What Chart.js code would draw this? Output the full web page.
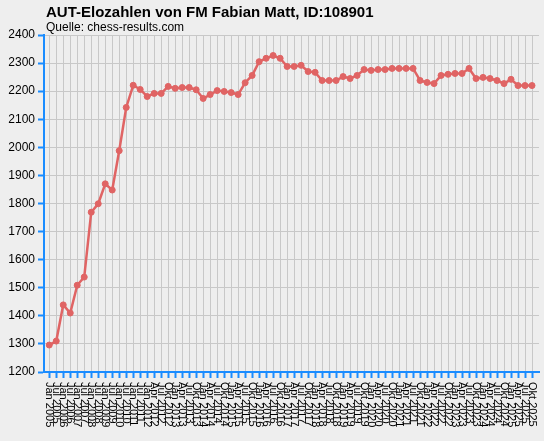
<!DOCTYPE html>
<html>
<head>
<meta charset="utf-8">
<script src="https://cdn.jsdelivr.net/npm/chart.js@4.4.1/dist/chart.umd.min.js"></script>
<style>
  html, body { margin: 0; padding: 0; background: #eeeeee; }
  canvas { display: block; }
</style>
</head>
<body>
<canvas id="chart" width="544" height="441"></canvas>
<script>
const titleText = "AUT-Elozahlen von FM Fabian Matt, ID:108901"
const subtitleText = "Quelle: chess-results.com"

// rating lists: half-yearly up to 2011, quarterly from 2012
const listLabels = [
  "Jan 2005", "Jul 2005", "Jan 2006", "Jul 2006", "Jan 2007", "Jul 2007",
  "Jan 2008", "Jul 2008", "Jan 2009", "Jul 2009", "Jan 2010", "Jul 2010",
  "Jan 2011", "Jul 2011",
  "Jan 2012", "Apr 2012", "Jul 2012", "Okt 2012",
  "Jan 2013", "Apr 2013", "Jul 2013", "Okt 2013",
  "Jan 2014", "Apr 2014", "Jul 2014", "Okt 2014",
  "Jan 2015", "Apr 2015", "Jul 2015", "Okt 2015",
  "Jan 2016", "Apr 2016", "Jul 2016", "Okt 2016",
  "Jan 2017", "Apr 2017", "Jul 2017", "Okt 2017",
  "Jan 2018", "Apr 2018", "Jul 2018", "Okt 2018",
  "Jan 2019", "Apr 2019", "Jul 2019", "Okt 2019",
  "Jan 2020", "Apr 2020", "Jul 2020", "Okt 2020",
  "Jan 2021", "Apr 2021", "Jul 2021", "Okt 2021",
  "Jan 2022", "Apr 2022", "Jul 2022", "Okt 2022",
  "Jan 2023", "Apr 2023", "Jul 2023", "Okt 2023",
  "Jan 2024", "Apr 2024", "Jul 2024", "Okt 2024",
  "Jan 2025", "Apr 2025", "Jul 2025", "Okt 2025",
]

const eloValues = [
  1296, 1310, 1439, 1410, 1509, 1538, 1769, 1799, 1870, 1848,
  1988, 2142, 2221, 2206, 2181, 2192, 2192, 2217, 2210, 2213,
  2213, 2205, 2174, 2188, 2202, 2199, 2195, 2188, 2230, 2256,
  2305, 2317, 2327, 2317, 2288, 2288, 2292, 2270, 2267, 2238,
  2238, 2238, 2252, 2245, 2256, 2277, 2274, 2277, 2277, 2281,
  2281, 2281, 2281, 2238, 2231, 2227, 2256, 2260, 2263, 2263,
  2281, 2245, 2249, 2245, 2238, 2227, 2242, 2220, 2220, 2220,
]

const yMin = 1200
const yMax = 2400
const yStep = 100

const axisBlue = "#1a8cff"
const gridGrey = "#c8c8c8"
const lineRed = "#e06464"
const fontFamily = '"Liberation Sans", Arial, sans-serif'

const backgroundPlugin = {
  id: "background",
  beforeDraw(chart) {
    const ctx = chart.ctx
    ctx.save()
    ctx.fillStyle = "#eeeeee"
    ctx.fillRect(0, 0, chart.width, chart.height)
    ctx.restore()
  },
}

// title, subtitle and the downward reading x labels
const textPlugin = {
  id: "texts",
  afterDraw(chart) {
    const ctx = chart.ctx
    const xScale = chart.scales.x
    ctx.save()
    ctx.fillStyle = "#000"
    ctx.textAlign = "left"
    ctx.textBaseline = "alphabetic"
    ctx.font = "bold 15px " + fontFamily
    ctx.fillText(titleText, 46, 17)
    ctx.font = "12px " + fontFamily
    ctx.fillText(subtitleText, 46, 31)

    ctx.font = "11px " + fontFamily
    ctx.textBaseline = "middle"
    listLabels.forEach((label, i) => {
      const px = xScale.getPixelForValue(i)
      ctx.save()
      ctx.translate(px, xScale.top + 10)
      ctx.rotate(Math.PI / 2)
      ctx.fillText(label, 0, 0)
      ctx.restore()
    })
    ctx.restore()
  },
}

const points = eloValues.map((v, i) => ({ x: i, y: v }))

new Chart(document.getElementById("chart"), {
  type: "line",
  data: {
    datasets: [
      {
        data: points,
        borderColor: lineRed,
        backgroundColor: lineRed,
        borderWidth: 2.5,
        pointRadius: 3,
        pointBackgroundColor: lineRed,
        pointBorderColor: lineRed,
        pointBorderWidth: 1,
        tension: 0,
      },
    ],
  },
  options: {
    responsive: false,
    animation: false,
    layout: { padding: { top: 35, right: 5, left: 0, bottom: 0 } },
    plugins: {
      legend: { display: false },
      tooltip: { enabled: false },
    },
    scales: {
      x: {
        type: "linear",
        min: -0.75,
        max: 70,
        afterBuildTicks: scale => {
          scale.ticks = listLabels.map((l, i) => ({ value: i }))
        },
        afterFit: scale => {
          scale.height = 69
        },
        ticks: { display: false },
        grid: {
          color: gridGrey,
          lineWidth: 1,
          drawTicks: true,
          tickLength: 6,
          tickColor: axisBlue,
          tickWidth: 2,
        },
        border: { color: axisBlue, width: 2 },
      },
      y: {
        min: yMin,
        max: yMax,
        afterFit: scale => {
          scale.width = 44
        },
        ticks: {
          stepSize: yStep,
          color: "#000",
          padding: 3,
          font: { family: fontFamily, size: 12 },
          callback: value => String(value),
        },
        grid: {
          color: gridGrey,
          lineWidth: 1,
          tickLength: 6,
          tickColor: axisBlue,
          tickWidth: 2,
        },
        border: { color: axisBlue, width: 2 },
      },
    },
  },
  plugins: [backgroundPlugin, textPlugin],
})
</script>
</body>
</html>
